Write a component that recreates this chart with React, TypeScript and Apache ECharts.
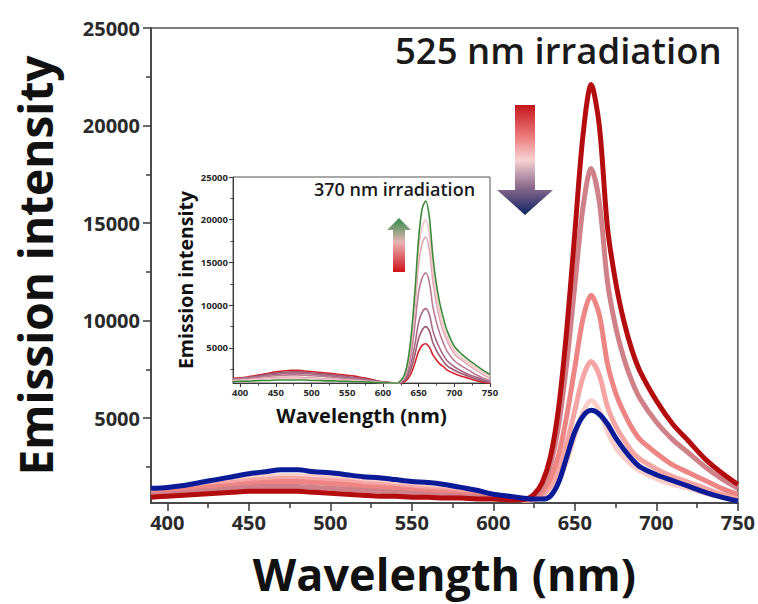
import React, { useEffect, useRef } from "react";
import * as echarts from "echarts";

// Wavelength grid (nm)
const wavelengths = [
  390, 400, 410, 420, 430, 440, 450, 460, 470, 480, 490, 500, 510, 520, 530, 540, 550, 560, 570, 580, 590, 600, 610,
  620, 625, 630, 635, 640, 645, 650, 655, 660, 665, 670, 675, 680, 685, 690,
  700, 710, 720, 730, 740, 750,
];

// Main panel (525 nm irradiation)
const mainDarkRed = [
  950, 1000, 1050, 1100, 1150, 1200, 1250, 1250, 1250, 1250, 1200, 1150, 1100, 1050, 1000, 1000, 950, 950, 900, 900, 850, 850, 800,
  850, 1100, 1700, 3000, 5500, 9500, 14500, 19500, 22100, 20000, 14800, 12000, 10000, 8500, 7400,
  5900, 4700, 3800, 2900, 2200, 1600,
];
const mainRose = [
  1050, 1100, 1150, 1250, 1300, 1400, 1450, 1500, 1500, 1500, 1450, 1400, 1350, 1300, 1250, 1200, 1150, 1100, 1050, 1000, 950, 900, 850,
  850, 1000, 1500, 2600, 4600, 7800, 11800, 15800, 17800, 16100, 12000, 9700, 8100, 6900, 6000,
  4800, 3900, 3200, 2500, 1900, 1400,
];
const mainSalmon = [
  1150, 1200, 1300, 1400, 1500, 1550, 1650, 1700, 1750, 1750, 1700, 1650, 1600, 1500, 1450, 1400, 1300, 1250, 1200, 1100, 1050, 950, 900,
  800, 900, 1200, 1900, 3100, 5100, 7600, 10100, 11300, 10300, 7800, 6300, 5300, 4500, 3900,
  3200, 2600, 2200, 1800, 1400, 1100,
];
const mainLightSalmon = [
  1200, 1250, 1350, 1450, 1600, 1700, 1800, 1850, 1900, 1900, 1850, 1800, 1750, 1650, 1600, 1500, 1450, 1350, 1300, 1200, 1100, 1000, 900,
  800, 850, 1050, 1500, 2300, 3700, 5400, 7100, 7900, 7200, 5600, 4600, 3900, 3300, 2900,
  2400, 2000, 1700, 1400, 1100, 900,
];
const mainPalePink = [
  1300, 1350, 1450, 1550, 1700, 1800, 1900, 2000, 2050, 2050, 2000, 1950, 1850, 1800, 1700, 1650, 1550, 1450, 1400, 1300, 1150, 1050, 950,
  800, 820, 950, 1250, 1800, 2800, 4100, 5300, 5900, 5400, 4300, 3500, 3000, 2600, 2300,
  1900, 1600, 1400, 1150, 950, 800,
];
const mainNavy = [
  1400, 1450, 1550, 1700, 1850, 2000, 2150, 2250, 2350, 2350, 2250, 2200, 2100, 2000, 1950, 1850, 1750, 1700, 1600, 1450, 1300, 1100, 1000,
  880, 850, 850, 1000, 1700, 3000, 4300, 5100, 5400, 5200, 4700, 4000, 3400, 2900, 2500,
  2100, 1800, 1500, 1200, 950, 750,
];

// Inset (370 nm irradiation)
const insetRed = [
  1450, 1500, 1600, 1750, 1900, 2050, 2200, 2300, 2400, 2400, 2300, 2250, 2150, 2050, 2000, 1900, 1800, 1700, 1550, 1400, 1200, 1050, 950,
  850, 900, 1050, 1400, 2100, 3300, 4600, 5300, 5500, 5100, 4200, 3600, 3100, 2800, 2400,
  2000, 1700, 1450, 1200, 1000, 850,
];
const insetPlum = [
  1400, 1450, 1550, 1650, 1800, 1950, 2050, 2150, 2200, 2200, 2150, 2100, 2000, 1950, 1850, 1750, 1650, 1550, 1450, 1300, 1150, 1000, 950,
  850, 900, 1150, 1700, 2700, 4300, 6100, 7100, 7500, 7000, 5600, 4700, 4000, 3400, 2900,
  2400, 2000, 1700, 1400, 1150, 950,
];
const insetMauve = [
  1350, 1400, 1500, 1600, 1700, 1800, 1900, 2000, 2050, 2050, 2000, 1950, 1850, 1800, 1700, 1650, 1550, 1450, 1350, 1250, 1100, 1000, 900,
  850, 950, 1250, 2000, 3400, 5500, 8000, 9200, 9600, 8900, 7000, 5800, 4900, 4100, 3500,
  2800, 2300, 1900, 1600, 1300, 1050,
];
const insetRose = [
  1300, 1350, 1400, 1500, 1600, 1700, 1750, 1800, 1850, 1850, 1800, 1750, 1700, 1650, 1550, 1500, 1400, 1350, 1250, 1150, 1050, 950, 900,
  850, 1000, 1400, 2500, 4500, 7800, 11500, 13200, 13800, 12700, 9800, 8000, 6600, 5500, 4600,
  3500, 2900, 2400, 1900, 1500, 1200,
];
const insetPink = [
  1200, 1250, 1300, 1350, 1450, 1500, 1550, 1600, 1600, 1600, 1550, 1500, 1450, 1400, 1350, 1300, 1250, 1200, 1150, 1100, 1000, 950, 900,
  850, 1100, 1600, 3000, 5700, 9800, 14800, 17200, 18000, 16500, 12800, 10100, 8200, 6800, 5800,
  4300, 3600, 3000, 2400, 1900, 1500,
];
const insetLightPink = [
  1150, 1200, 1250, 1300, 1350, 1400, 1400, 1450, 1450, 1450, 1400, 1400, 1350, 1300, 1250, 1200, 1150, 1150, 1100, 1050, 1000, 950, 900,
  850, 1150, 1700, 3300, 6300, 10900, 16500, 19200, 20000, 18300, 14200, 11200, 9100, 7500, 6300,
  4700, 3900, 3300, 2700, 2200, 1700,
];
const insetGreen = [
  1050, 1100, 1100, 1150, 1200, 1200, 1250, 1250, 1250, 1250, 1250, 1200, 1200, 1150, 1150, 1100, 1100, 1050, 1050, 1000, 950, 950, 900,
  850, 1200, 1800, 3500, 6800, 11800, 17800, 21300, 22200, 20300, 15700, 12400, 10100, 8400, 7000,
  5200, 4300, 3600, 3000, 2400, 1900,
];

const xMajor = [400, 450, 500, 550, 600, 650, 700, 750];
const xMinor = [425, 475, 525, 575, 625, 675, 725];
const yMajor = [5000, 10000, 15000, 20000, 25000];
const yMinor = [2500, 7500, 12500, 17500, 22500];

const FONT = "'Open Sans', Lato, sans-serif";

const pairs = (ys: number[]) => wavelengths.map((w, i) => [w, ys[i]]);

export default function App() {
  const ref = useRef<HTMLDivElement>(null);
  useEffect(() => {
    if (!ref.current) return;
    const chart = echarts.init(ref.current, null, { renderer: "svg" });

    const axisColor = "#3a3a3a";
    const plain = (v: number) => String(v);

    const mkX = (grid: number, big: boolean, major: boolean) => ({
      type: "value",
      gridIndex: grid,
      position: "bottom",
      min: 390,
      max: 750,
      axisLine: { show: major, onZero: false, lineStyle: { color: axisColor, width: big ? 1.5 : 1 } },
      axisTick: {
        show: true,
        customValues: major ? xMajor : xMinor,
        length: major ? (big ? 8 : 4) : big ? 5 : 2.5,
        lineStyle: { color: axisColor, width: big ? 1.5 : 1 },
      },
      axisLabel: major
        ? {
            customValues: xMajor,
            formatter: plain,
            fontSize: big ? 20 : 9.5,
            fontWeight: "bold",
            color: "#2a2a2a",
            fontFamily: FONT,
            margin: big ? 9 : 4,
          }
        : { show: false },
      splitLine: { show: false },
      ...(major
        ? {
            name: "Wavelength (nm)",
            nameLocation: "middle",
            nameGap: big ? 48 : 22,
            nameTextStyle: {
              fontSize: big ? 45 : 20,
              fontWeight: "bold",
              color: "#111",
              fontFamily: FONT,
            },
          }
        : {}),
    });

    const mkY = (grid: number, big: boolean, major: boolean, min: number) => ({
      type: "value",
      gridIndex: grid,
      position: "left",
      min,
      max: 25000,
      axisLine: { show: major, onZero: false, lineStyle: { color: axisColor, width: big ? 1.5 : 1 } },
      axisTick: {
        show: true,
        customValues: major ? yMajor : yMinor,
        length: major ? (big ? 8 : 4) : big ? 5 : 2.5,
        lineStyle: { color: axisColor, width: big ? 1.5 : 1 },
      },
      axisLabel: major
        ? {
            customValues: yMajor,
            formatter: plain,
            fontSize: big ? 20 : 9.5,
            fontWeight: "bold",
            color: "#2a2a2a",
            fontFamily: FONT,
            margin: big ? 11 : 5,
          }
        : { show: false },
      splitLine: { show: false },
      ...(major
        ? {
            name: "Emission intensity",
            nameLocation: "middle",
            nameGap: big ? 93 : 38,
            nameTextStyle: {
              fontSize: big ? 46 : 19.5,
              fontWeight: "bold",
              color: "#111",
              fontFamily: FONT,
            },
          }
        : {}),
    });

    const mainLine = (name: string, data: number[], color: string, z: number) => ({
      name,
      type: "line",
      xAxisIndex: 0,
      yAxisIndex: 0,
      data: pairs(data),
      smooth: 0.3,
      showSymbol: false,
      z,
      lineStyle: { color, width: 5 },
      clip: true,
    });
    const insetLine = (name: string, data: number[], color: string, z: number) => ({
      name,
      type: "line",
      xAxisIndex: 2,
      yAxisIndex: 2,
      data: pairs(data),
      smooth: 0.3,
      showSymbol: false,
      z,
      lineStyle: { color, width: 1.6 },
      clip: true,
    });

    const option = {
      animation: false,
      backgroundColor: "#fff",
      grid: [
        { left: 151, top: 28, right: 18, bottom: 101, show: true, borderColor: "#555", borderWidth: 1.5, backgroundColor: "transparent" },
        { left: 233, top: 177, width: 257, height: 206, show: true, borderColor: "#555", borderWidth: 1, backgroundColor: "#fff" },
      ],
      xAxis: [mkX(0, true, true), mkX(0, true, false), mkX(1, false, true), mkX(1, false, false)],
      yAxis: [mkY(0, true, true, 650), mkY(0, true, false, 650), mkY(1, false, true, 900), mkY(1, false, false, 900)],
      series: [
        mainLine("m5", mainPalePink, "#f9cdc8", 2),
        mainLine("m4", mainLightSalmon, "#f5a5a3", 3),
        mainLine("m3", mainSalmon, "#ee8585", 4),
        mainLine("m2", mainRose, "#cf8088", 5),
        mainLine("m1", mainDarkRed, "#b40d10", 6),
        mainLine("m6", mainNavy, "#0b1a96", 7),
        insetLine("i1", insetRed, "#d3222a", 10),
        insetLine("i2", insetPlum, "#9a5a72", 11),
        insetLine("i3", insetMauve, "#a86884", 12),
        insetLine("i4", insetRose, "#bb7c92", 13),
        insetLine("i5", insetPink, "#e2a9b4", 14),
        insetLine("i6", insetLightPink, "#f0c4c6", 15),
        insetLine("i7", insetGreen, "#3a8a3a", 16),
      ],
      graphic: [
        {
          type: "text",
          left: 395,
          top: 31,
          z: 20,
          style: { text: "525 nm irradiation", fontSize: 36.5, fontFamily: FONT, fill: "#1a1a1a", fontWeight: 600 },
        },
        {
          type: "polygon",
          z: 20,
          shape: {
            points: [
              [515, 105],
              [535, 105],
              [535, 190],
              [553, 190],
              [525, 215],
              [497, 190],
              [515, 190],
            ],
          },
          style: {
            fill: new echarts.graphic.LinearGradient(0, 0, 0, 1, [
              { offset: 0, color: "#c4161c" },
              { offset: 0.3, color: "#ee8080" },
              { offset: 0.5, color: "#f8d2d4" },
              { offset: 0.75, color: "#8a6a8c" },
              { offset: 1, color: "#0e2262" },
            ]),
          },
        },
        {
          type: "text",
          left: 314,
          top: 180,
          z: 20,
          style: { text: "370 nm irradiation", fontSize: 18, fontFamily: FONT, fill: "#1a1a1a", fontWeight: 600 },
        },
        {
          type: "polygon",
          z: 20,
          shape: {
            points: [
              [399, 218],
              [411, 230],
              [405, 230],
              [405, 272],
              [393, 272],
              [393, 230],
              [387, 230],
            ],
          },
          style: {
            fill: new echarts.graphic.LinearGradient(0, 0, 0, 1, [
              { offset: 0, color: "#2e8b4a" },
              { offset: 0.45, color: "#e9b4b4" },
              { offset: 1, color: "#d0101a" },
            ]),
          },
        },
      ],
    };

    chart.setOption(option as any);
    return () => chart.dispose();
  }, []);

  return (
    <div
      ref={ref}
      style={{ position: "absolute", left: 0, top: 0, width: 758, height: 604 }}
    />
  );
}
